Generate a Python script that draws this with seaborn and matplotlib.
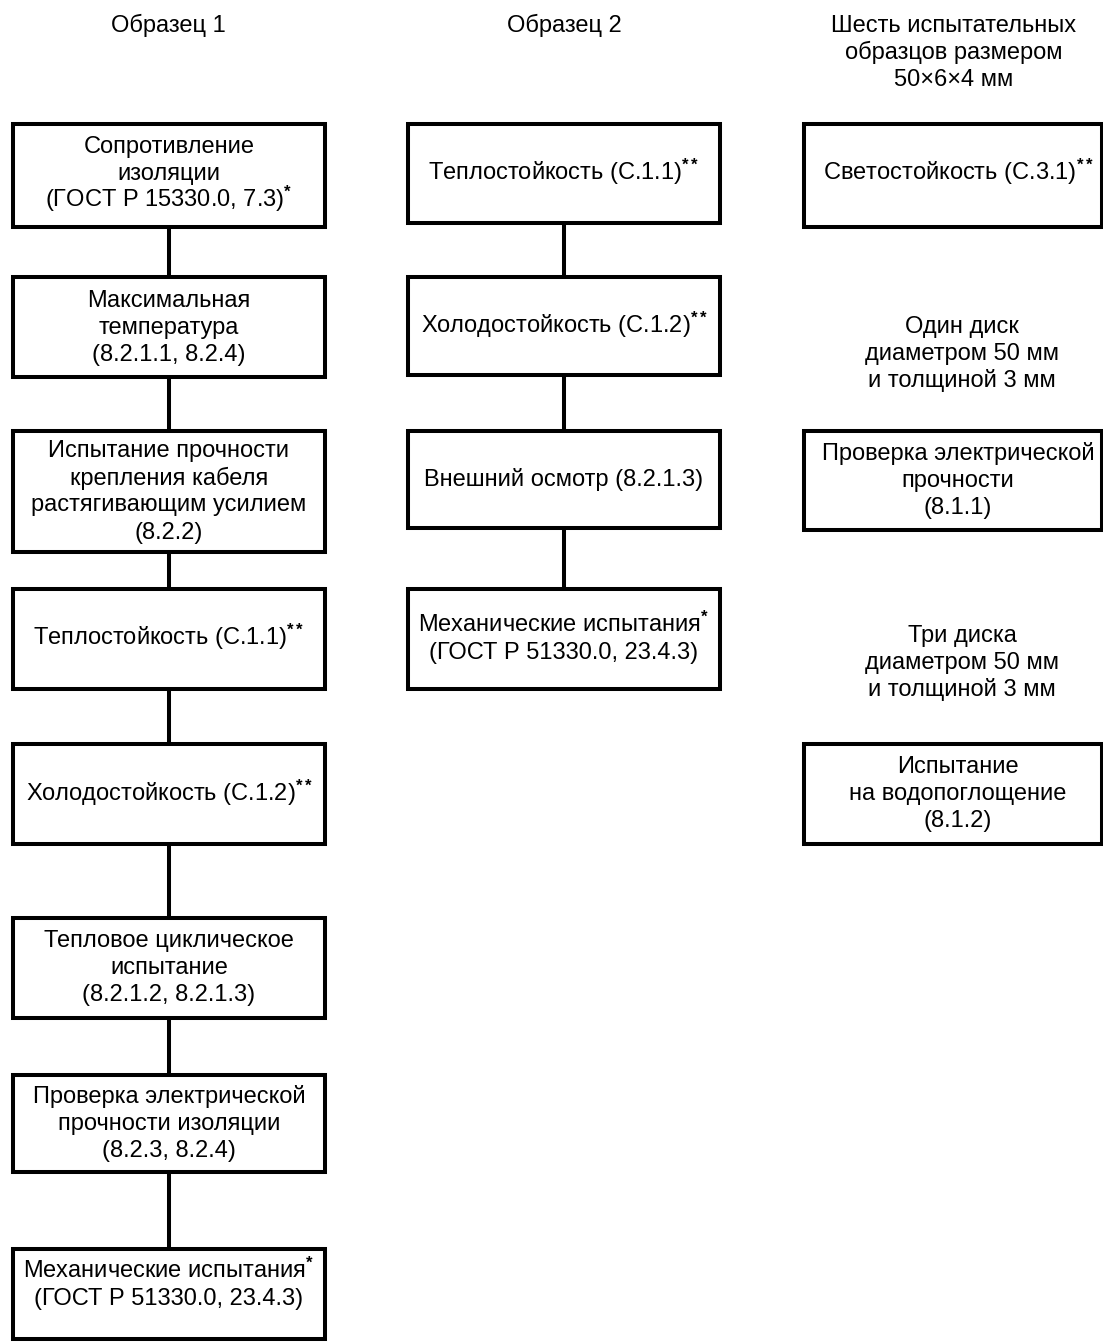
import matplotlib.pyplot as plt
import seaborn as sns
from matplotlib.patches import Rectangle

# column headers
headers = ["Образец 1", "Образец 2",
           "Шесть испытательных\nобразцов размером\n50×6×4 мм"]

# box labels per column
col1_labels = [
    "Сопротивление\nизоляции\n(ГОСТ Р 15330.0, 7.3)$^{\\mathbf{*}}$",
    "Максимальная\nтемпература\n(8.2.1.1, 8.2.4)",
    "Испытание прочности\nкрепления кабеля\nрастягивающим усилием\n(8.2.2)",
    "Теплостойкость (С.1.1)$^{\\mathbf{**}}$",
    "Холодостойкость (С.1.2)$^{\\mathbf{**}}$",
    "Тепловое циклическое\nиспытание\n(8.2.1.2, 8.2.1.3)",
    "Проверка электрической\nпрочности изоляции\n(8.2.3, 8.2.4)",
    "Механические испытания$^{\\mathbf{*}}$\n(ГОСТ Р 51330.0, 23.4.3)",
]
col2_labels = [
    "Теплостойкость (С.1.1)$^{\\mathbf{**}}$",
    "Холодостойкость (С.1.2)$^{\\mathbf{**}}$",
    "Внешний осмотр (8.2.1.3)",
    "Механические испытания$^{\\mathbf{*}}$\n(ГОСТ Р 51330.0, 23.4.3)",
]
col3_labels = [
    "Светостойкость (С.3.1)$^{\\mathbf{**}}$",
    "Проверка электрической\nпрочности\n(8.1.1)",
    "Испытание\nна водопоглощение\n(8.1.2)",
]
col3_notes = [
    "Один диск\nдиаметром 50 мм\nи толщиной 3 мм",
    "Три диска\nдиаметром 50 мм\nи толщиной 3 мм",
]

# layout (pixel coordinates, y downward)
col_x = [(13, 324.5), (408, 719.5), (804, 1102)]
col1_y = [(123.5, 226.5), (277, 377), (431, 552), (589, 689),
          (744, 844), (918, 1018), (1075, 1172), (1249, 1339)]
col2_y = [(124, 223), (277, 375), (431, 528), (589, 689)]
col3_y = [(123.5, 226.5), (431, 530), (744, 844)]
col1_text_y = [173, 327, 491, 638, 794, 967, 1123, 1284]
col2_text_y = [173, 326, 479, 638]
col3_text_y = [173, 480, 793]
header_y = [25, 25, 52]
header_x = [168, 564, 954]
notes_y = [353, 662]

sns.set_theme(style="white")
plt.rcParams['font.family'] = ['Liberation Sans', 'DejaVu Sans']
plt.rcParams['mathtext.fontset'] = 'custom'
plt.rcParams['mathtext.rm'] = 'Liberation Sans'
plt.rcParams['mathtext.it'] = 'Liberation Sans'
plt.rcParams['mathtext.bf'] = 'Liberation Sans:bold'

fig = plt.figure(figsize=(11.03, 13.42), dpi=100)
ax = fig.add_axes([0, 0, 1, 1])
ax.set_xlim(0, 1103)
ax.set_ylim(1342, 0)
ax.axis('off')

FS = 17
STEP = 27  # pixels between text lines
BASE = 7   # baseline offset below the visual line centre
LW = 2.9


def put_text(x, y, s):
    lines = s.split("\n")
    n = len(lines)
    for k, line in enumerate(lines):
        ax.text(x, y + (k - (n - 1) / 2) * STEP + BASE, line, ha='center',
                va='baseline', fontsize=FS, color='black')


def draw_column(xs, ys, labels, text_ys, tx, connect):
    x0, x1 = xs
    cx = (x0 + x1) / 2
    for i, ((y0, y1), lab, ty) in enumerate(zip(ys, labels, text_ys)):
        ax.add_patch(Rectangle((x0, y0), x1 - x0, y1 - y0, fill=False,
                               edgecolor='black', linewidth=LW, joinstyle='miter'))
        put_text(tx, ty, lab)
        if connect and i < len(ys) - 1:
            ax.plot([cx, cx], [y1, ys[i + 1][0]], color='black',
                    linewidth=LW, solid_capstyle='butt')


draw_column(col_x[0], col1_y, col1_labels, col1_text_y, 169, True)
draw_column(col_x[1], col2_y, col2_labels, col2_text_y, 564, True)
draw_column(col_x[2], col3_y, col3_labels, col3_text_y, 958, False)

for hx, hy, h in zip(header_x, header_y, headers):
    put_text(hx, hy, h)

for ny, n in zip(notes_y, col3_notes):
    put_text(962, ny, n)

fig.savefig('out.png', dpi=100)
